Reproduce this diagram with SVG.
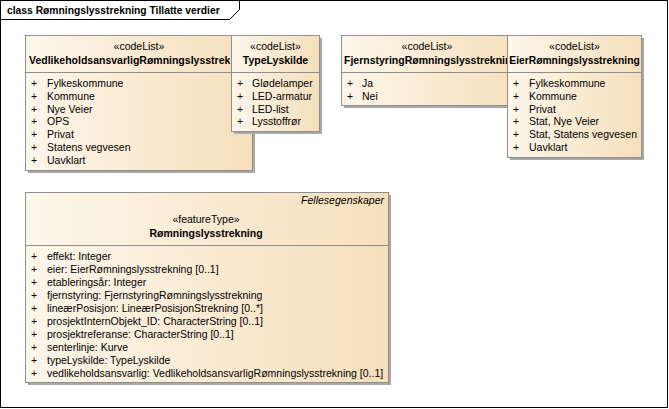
<svg xmlns="http://www.w3.org/2000/svg" width="669" height="409" viewBox="0 0 669 409">
<defs>
<linearGradient id="g" x1="0" y1="0" x2="1" y2="0">
<stop offset="0" stop-color="#fdf6ea"/>
<stop offset="1" stop-color="#f6dfbb"/>
</linearGradient>
<style>
.box{fill:url(#g);stroke:#8f8f8f;stroke-width:1}
.sh{fill:#a8a8a8}
.sep{stroke:#8f8f8f;stroke-width:1}
text{font-family:"Liberation Sans",Arial,sans-serif;font-size:10.5px;fill:#000}
.b{font-weight:bold}
.c{text-anchor:middle}
.a{fill:#333}
.i{font-style:italic}
</style>
</defs>
<rect x="0.5" y="0.5" width="667" height="407" fill="#fff" stroke="#000"/>
<path d="M0.5,19.5 H229.5 L239.5,9.5 V0.5" fill="none" stroke="#000"/>
<text x="7" y="14" class="b" style="font-size:10.3px">class Rømningslysstrekning Tillatte verdier</text>

<g id="vedlikehold">
<rect class="sh" x="28" y="38" width="227" height="135"/>
<rect class="box" x="25.5" y="35.5" width="227" height="135"/>
<line class="sep" x1="25.5" y1="72.5" x2="252.5" y2="72.5"/>
<text x="139" y="50" class="c">«codeList»</text>
<svg x="26" y="36" width="204" height="36" viewBox="26 36 204 36" overflow="hidden">
<text x="29" y="64" class="b">VedlikeholdsansvarligRømningslysstrekning</text>
</svg>
<g class="a">
<text x="31" y="87">+</text><text x="47" y="87">Fylkeskommune</text>
<text x="31" y="99.8">+</text><text x="47" y="99.8">Kommune</text>
<text x="31" y="112.6">+</text><text x="47" y="112.6">Nye Veier</text>
<text x="31" y="125.4">+</text><text x="47" y="125.4">OPS</text>
<text x="31" y="138.2">+</text><text x="47" y="138.2">Privat</text>
<text x="31" y="151">+</text><text x="47" y="151">Statens vegvesen</text>
<text x="31" y="163.8">+</text><text x="47" y="163.8">Uavklart</text>
</g>
</g>

<g id="typelyskilde">
<rect class="sh" x="234" y="38" width="88" height="96"/>
<rect class="box" x="231.5" y="35.5" width="88" height="96"/>
<line class="sep" x1="231.5" y1="72.5" x2="319.5" y2="72.5"/>
<text x="275.5" y="50" class="c">«codeList»</text>
<text x="275.5" y="64" class="b c">TypeLyskilde</text>
<g class="a">
<text x="237" y="87">+</text><text x="252" y="87">Glødelamper</text>
<text x="237" y="99.8">+</text><text x="252" y="99.8">LED-armatur</text>
<text x="237" y="112.6">+</text><text x="252" y="112.6">LED-list</text>
<text x="237" y="125.4">+</text><text x="252" y="125.4">Lysstoffrør</text>
</g>
</g>

<g id="fjernstyring">
<rect class="sh" x="344" y="38" width="180" height="70"/>
<rect class="box" x="341.5" y="35.5" width="180" height="70"/>
<line class="sep" x1="341.5" y1="72.5" x2="521.5" y2="72.5"/>
<text x="427" y="50" class="c">«codeList»</text>
<svg x="342" y="36" width="165" height="36" viewBox="342 36 165 36" overflow="hidden">
<text x="344" y="64" class="b">FjernstyringRømningslysstrekning</text>
</svg>
<g class="a">
<text x="347" y="87">+</text><text x="362" y="87">Ja</text>
<text x="347" y="99.8">+</text><text x="362" y="99.8">Nei</text>
</g>
</g>

<g id="eier">
<rect class="sh" x="510" y="38" width="134" height="122"/>
<rect class="box" x="507.5" y="35.5" width="134" height="122"/>
<line class="sep" x1="507.5" y1="72.5" x2="641.5" y2="72.5"/>
<text x="574.5" y="50" class="c">«codeList»</text>
<text x="574.5" y="64" class="b c" style="font-size:10.3px">EierRømningslysstrekning</text>
<g class="a">
<text x="513" y="87">+</text><text x="529" y="87">Fylkeskommune</text>
<text x="513" y="99.8">+</text><text x="529" y="99.8">Kommune</text>
<text x="513" y="112.6">+</text><text x="529" y="112.6">Privat</text>
<text x="513" y="125.4">+</text><text x="529" y="125.4">Stat, Nye Veier</text>
<text x="513" y="138.2">+</text><text x="529" y="138.2">Stat, Statens vegvesen</text>
<text x="513" y="151">+</text><text x="529" y="151">Uavklart</text>
</g>
</g>

<g id="romningslysstrekning">
<rect class="sh" x="28" y="195" width="363" height="190"/>
<rect class="box" x="25.5" y="192.5" width="363" height="190"/>
<line class="sep" x1="25.5" y1="245.5" x2="388.5" y2="245.5"/>
<text x="384" y="204" class="i" text-anchor="end">Fellesegenskaper</text>
<text x="206" y="223" class="c">«featureType»</text>
<text x="206" y="237" class="b c">Rømningslysstrekning</text>
<g class="a">
<text x="31" y="260">+</text><text x="47" y="260">effekt: Integer</text>
<text x="31" y="273">+</text><text x="47" y="273">eier: EierRømningslysstrekning [0..1]</text>
<text x="31" y="286">+</text><text x="47" y="286">etableringsår: Integer</text>
<text x="31" y="299">+</text><text x="47" y="299">fjernstyring: FjernstyringRømningslysstrekning</text>
<text x="31" y="312">+</text><text x="47" y="312">lineærPosisjon: LineærPosisjonStrekning [0..*]</text>
<text x="31" y="325">+</text><text x="47" y="325">prosjektInternObjekt_ID: CharacterString [0..1]</text>
<text x="31" y="338">+</text><text x="47" y="338">prosjektreferanse: CharacterString [0..1]</text>
<text x="31" y="351">+</text><text x="47" y="351">senterlinje: Kurve</text>
<text x="31" y="364">+</text><text x="47" y="364">typeLyskilde: TypeLyskilde</text>
<text x="31" y="377">+</text><text x="47" y="377">vedlikeholdsansvarlig: VedlikeholdsansvarligRømningslysstrekning [0..1]</text>
</g>
</g>
</svg>
